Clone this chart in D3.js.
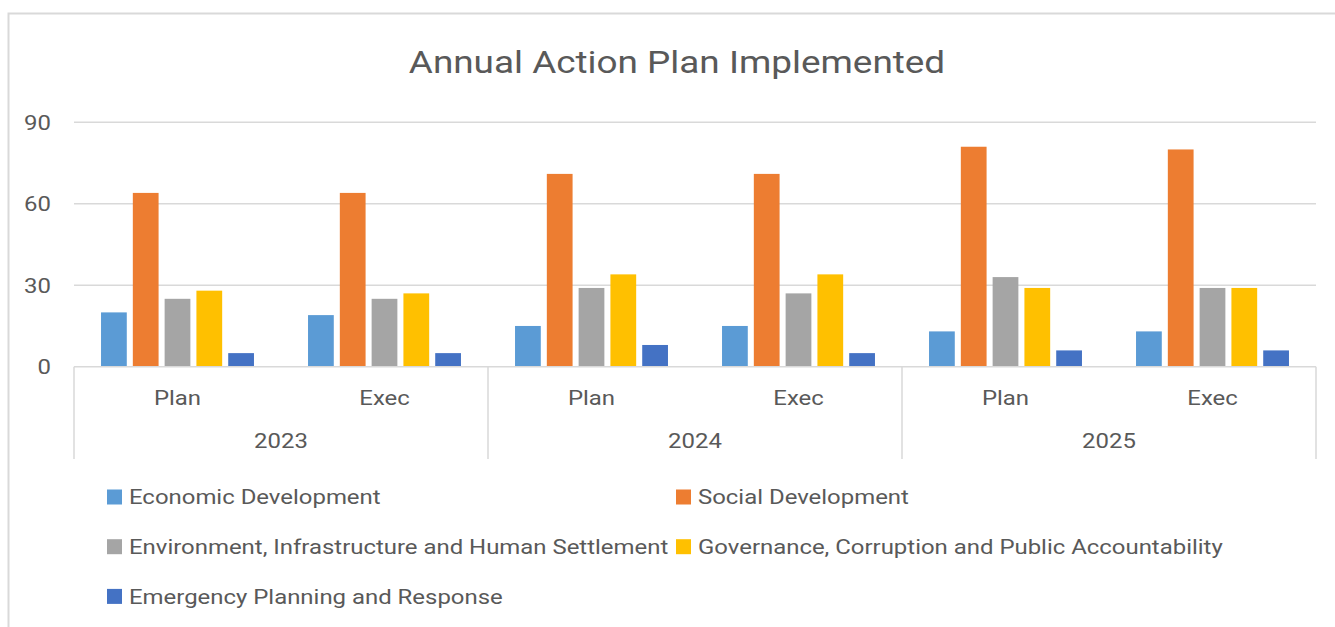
<!DOCTYPE html>
<html lang="en">
<head>
<meta charset="utf-8">
<title>Annual Action Plan Implemented</title>
<script src="https://d3js.org/d3.v7.min.js"></script>
<style>
  body { margin: 0; background: #fff; }
  svg { display: block; font-family: Roboto, "Noto Sans", sans-serif; }
  .tick-label { font-size: 21px; fill: #595959; }
  .cat { font-size: 21px; fill: #595959; }
  .legend text { font-size: 21px; fill: #595959; }
  .title { font-size: 31px; fill: #595959; }
</style>
</head>
<body>
<svg width="1335" height="627"></svg>
<script>
// data
const years = ["2023", "2024", "2025"];
const phases = ["Plan", "Exec"];
const seriesNames = [
  "Economic Development",
  "Social Development",
  "Environment, Infrastructure and Human Settlement",
  "Governance, Corruption and Public Accountability",
  "Emergency Planning and Response"
];
// one value per year/phase: 2023 Plan, 2023 Exec, 2024 Plan, ...
const economic    = [20, 19, 15, 15, 13, 13];
const social      = [64, 64, 71, 71, 81, 80];
const environment = [25, 25, 29, 27, 33, 29];
const governance  = [28, 27, 34, 34, 29, 29];
const emergency   = [5, 5, 8, 5, 6, 6];
const yTicks = [0, 30, 60, 90];

const seriesValues = [economic, social, environment, governance, emergency];
const colors = ["#5B9BD5", "#ED7D31", "#A5A5A5", "#FFC000", "#4472C4"];

// the original's lettering is a little wider than plain Roboto
const stretch = 1.14, titleStretch = 1.19;
const place = (x, y, k) => `translate(${x},${y}) scale(${k},1)`;

const svg = d3.select("svg");

// chart frame (right and bottom edges are cut off in the original)
svg.append("rect")
  .attr("x", 8.5).attr("y", 13.5)
  .attr("width", 1340).attr("height", 640)
  .attr("fill", "none").attr("stroke", "#D9D9D9").attr("stroke-width", 2);

const plotLeft = 74, plotRight = 1316, plotTop = 122.3, plotBottom = 366.7;

const x0 = d3.scaleBand().domain(years).range([plotLeft, plotRight]);
const x1 = d3.scaleBand().domain(phases).range([0, x0.bandwidth()]);
const x2 = d3.scaleBand().domain(d3.range(seriesNames.length))
  .range([0, x1.bandwidth()]).paddingInner(0.19).paddingOuter(0.85);
const y = d3.scaleLinear().domain([0, 90]).range([plotBottom, plotTop]);

// gridlines
svg.append("g").selectAll("line")
  .data(yTicks.filter(t => t > 0))
  .join("line")
  .attr("x1", plotLeft).attr("x2", plotRight)
  .attr("y1", d => y(d)).attr("y2", d => y(d))
  .attr("stroke", "#D9D9D9").attr("stroke-width", 1.5);

// y tick labels
svg.append("g").selectAll("text")
  .data(yTicks)
  .join("text")
  .attr("class", "tick-label")
  .attr("transform", d => place(51, y(d), stretch))
  .attr("dy", "0.35em")
  .attr("text-anchor", "end")
  .text(d => d);

// bars
const cells = [];
years.forEach((yr, i) => phases.forEach((ph, j) => {
  seriesValues.forEach((vals, s) => {
    cells.push({ year: yr, phase: ph, s: s, value: vals[i * phases.length + j] });
  });
}));

svg.append("g").selectAll("rect")
  .data(cells)
  .join("rect")
  .attr("x", d => x0(d.year) + x1(d.phase) + x2(d.s))
  .attr("width", x2.bandwidth())
  .attr("y", d => y(d.value))
  .attr("height", d => y(0) - y(d.value))
  .attr("fill", d => colors[d.s]);

// category axis: baseline and group dividers
const axis = svg.append("g");
axis.append("line")
  .attr("x1", plotLeft).attr("x2", plotRight)
  .attr("y1", plotBottom).attr("y2", plotBottom)
  .attr("stroke", "#D9D9D9").attr("stroke-width", 1.5);

const dividers = years.map(d => x0(d)).concat([plotRight]);
axis.selectAll("line.div")
  .data(dividers)
  .join("line")
  .attr("class", "div")
  .attr("x1", d => d).attr("x2", d => d)
  .attr("y1", plotBottom).attr("y2", 459)
  .attr("stroke", "#D9D9D9").attr("stroke-width", 1.5);

const subLabels = [];
years.forEach(yr => phases.forEach(ph => subLabels.push({ year: yr, phase: ph })));

axis.selectAll("text.sub")
  .data(subLabels)
  .join("text")
  .attr("class", "cat sub")
  .attr("transform", d => place(x0(d.year) + x1(d.phase) + x1.bandwidth() / 2, 405, stretch))
  .attr("text-anchor", "middle")
  .text(d => d.phase);

axis.selectAll("text.yr")
  .data(years)
  .join("text")
  .attr("class", "cat yr")
  .attr("transform", d => place(x0(d) + x0.bandwidth() / 2, 448, stretch))
  .attr("text-anchor", "middle")
  .text(d => d);

// title
svg.append("text")
  .attr("class", "title")
  .attr("transform", place(677, 73, titleStretch))
  .attr("text-anchor", "middle")
  .text("Annual Action Plan Implemented");

// legend, two columns
const legend = svg.append("g").attr("class", "legend");
const item = legend.selectAll("g")
  .data(seriesNames)
  .join("g")
  .attr("transform", (d, i) => `translate(${i % 2 === 0 ? 107 : 676},${497 + Math.floor(i / 2) * 49.7})`);

item.append("rect")
  .attr("x", 0).attr("y", -7.5)
  .attr("width", 15).attr("height", 15)
  .attr("fill", (d, i) => colors[i]);

item.append("text")
  .attr("transform", place(22, 0, stretch))
  .attr("dy", "0.35em")
  .text(d => d);
</script>
</body>
</html>
